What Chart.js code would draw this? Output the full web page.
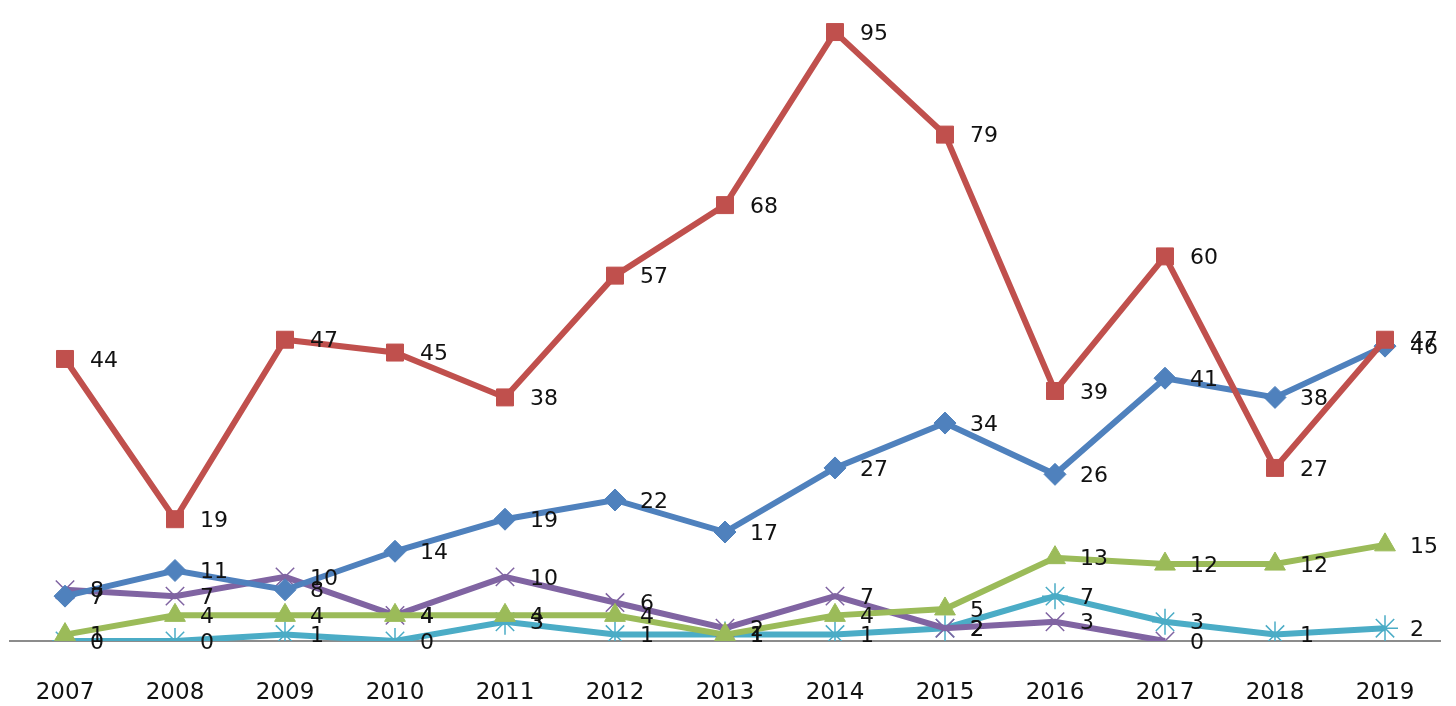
<!DOCTYPE html>
<html>
<head>
<meta charset="utf-8">
<script src="https://cdn.jsdelivr.net/npm/chart.js@4.4.1/dist/chart.umd.min.js"></script>
<style>
  html, body { margin: 0; padding: 0; background: #fff; }
  #wrap { width: 1456px; height: 706px; }
</style>
</head>
<body>
<div id="wrap"><canvas id="lineChart"></canvas></div>
<script>
const years = ['2007', '2008', '2009', '2010', '2011', '2012', '2013', '2014', '2015', '2016', '2017', '2018', '2019'];
const redSeries = [44, 19, 47, 45, 38, 57, 68, 95, 79, 39, 60, 27, 47];
const blueSeries = [7, 11, 8, 14, 19, 22, 17, 27, 34, 26, 41, 38, 46];
const greenSeries = [1, 4, 4, 4, 4, 4, 1, 4, 5, 13, 12, 12, 15];
const purpleSeries = [8, 7, 10, 4, 10, 6, 2, 7, 2, 3, 0, null, null];
const cyanSeries = [0, 0, 1, 0, 3, 1, 1, 1, 2, 7, 3, 1, 2];

// labels drawn to the right of every point
const valueLabels = {
    id: 'valueLabels',
    afterDatasetsDraw(chart) {
        const ctx = chart.ctx;
        ctx.save();
        ctx.font = '22px "DejaVu Sans"';
        ctx.fillStyle = '#111';
        ctx.textBaseline = 'middle';
        ctx.textAlign = 'left';
        chart.data.datasets.forEach(function (ds, i) {
            const meta = chart.getDatasetMeta(i);
            meta.data.forEach(function (pt, j) {
                const v = ds.data[j];
                if (v === null || v === undefined) return;
                ctx.fillText(String(v), pt.x + 25, pt.y + 2);
            });
        });
        ctx.restore();
    }
};

function series(data, color, style, radius, pbw, order) {
    return {
        data: data,
        borderColor: color,
        backgroundColor: color,
        borderWidth: 6,
        pointStyle: style,
        pointRadius: radius,
        pointBorderColor: color,
        pointBackgroundColor: color,
        pointBorderWidth: pbw,
        tension: 0,
        spanGaps: false,
        order: order
    };
}

const canvas = document.getElementById('lineChart');

new Chart(canvas, {
    type: 'line',
    data: {
        labels: years,
        datasets: [
            series(redSeries, '#C0504D', 'rect', 12, 1, 0),
            series(blueSeries, '#4F81BD', 'rectRot', 11, 1, 1),
            series(greenSeries, '#9BBB59', 'triangle', 12, 1, 2),
            series(purpleSeries, '#8064A2', 'crossRot', 13, 1.5, 3),
            series(cyanSeries, '#4BACC6', 'star', 13, 1.5, 4)
        ]
    },
    options: {
        responsive: true,
        maintainAspectRatio: false,
        animation: false,
        layout: {
            autoPadding: false,
            padding: { left: 10, right: 16, top: 0, bottom: 0 }
        },
        plugins: {
            legend: { display: false },
            tooltip: { enabled: false }
        },
        scales: {
            x: {
                offset: true,
                grid: { display: false },
                border: { display: true, color: '#8c8c8c', width: 2 },
                ticks: {
                    color: '#111',
                    padding: 30,
                    font: { family: '"DejaVu Sans"', size: 23 }
                },
                afterFit: function (scale) {
                    scale.height = 65;
                }
            },
            y: {
                display: false,
                min: 0,
                max: 100
            }
        }
    },
    plugins: [valueLabels]
});
</script>
</body>
</html>
